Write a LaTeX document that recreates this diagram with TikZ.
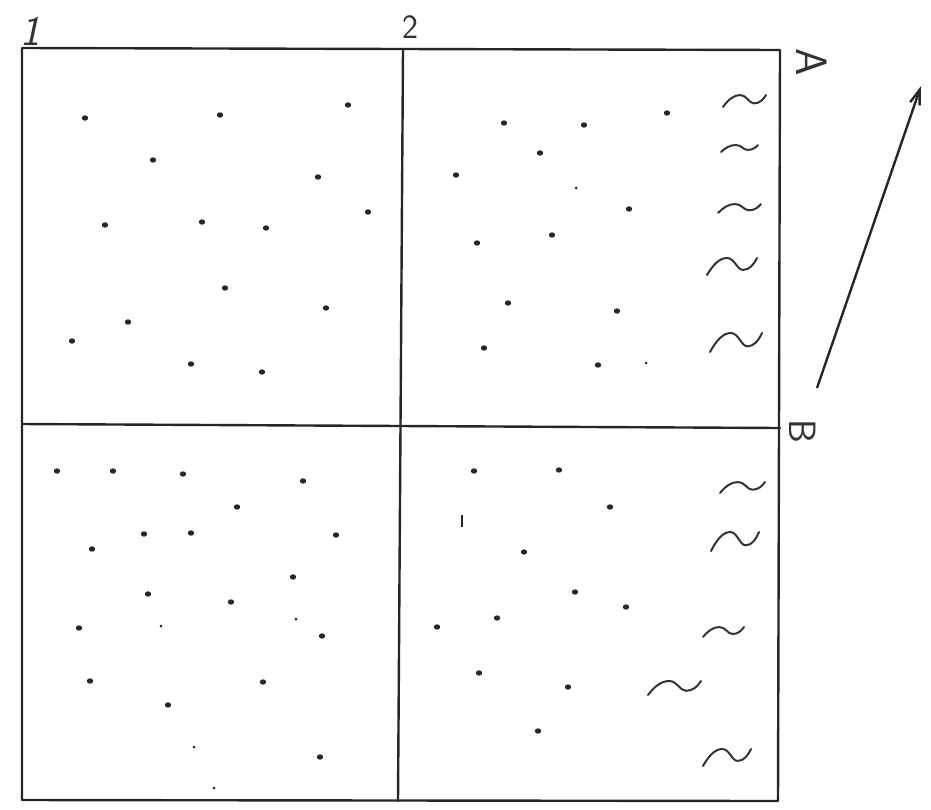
\documentclass[tikz,border=0pt]{standalone}
\usepackage{fontspec}
\usetikzlibrary{arrows.meta}
\tikzset{
  frameline/.style={line width=2.4pt, draw=black!85, line cap=round, line join=round},
  wave/.style={line width=2pt, draw=black!80, line cap=round},
  dot/.style={fill=black!85},
  hand/.style={text=black!80, inner sep=0pt},
  pointer/.style={line width=2.4pt, draw=black!85, -{Straight Barb[length=15pt,width=10pt,line width=2.4pt]}},
  pics/tld/.style={code={
    \draw[wave] (0,0) .. controls (0.12,-0.6) and (0.25,-1) .. (0.4,-1)
      .. controls (0.55,-1) and (0.6,-0.3) .. (0.72,-0.3)
      .. controls (0.85,-0.3) and (0.93,-0.6) .. (1,-1);
  }}
}
\begin{document}
\begin{tikzpicture}[x={(1pt,0)}, y={(0,-1pt)}]
\useasboundingbox (0,0) rectangle (931,809);
% frame corners
\coordinate (tl) at (22,48);
\coordinate (tr) at (780,50);
\coordinate (br) at (778,801);
\coordinate (bl) at (22,800);
\coordinate (tm) at (403,50);
\coordinate (bm) at (398,801);
\coordinate (ml) at (22,424);
\coordinate (mr) at (780,428);
\draw[frameline] (tl) -- (tr) -- (br) -- (bl) -- cycle;
\draw[frameline] (tm) -- (bm);
\draw[frameline] (ml) -- (mr);
% labels
\node[hand, anchor=base, font=\sffamily\itshape\fontsize{42}{44}\selectfont] (l1) at (30,45) {1};
\node[hand, anchor=base, font=\sffamily\fontsize{34}{36}\selectfont] (l2) at (410,38) {2};
\node[hand, font=\sffamily\fontsize{44}{46}\selectfont, rotate=-90] (lA) at (812,62) {A};
\node[hand, font=\sffamily\fontsize{38}{40}\selectfont, rotate=-90] (lB) at (803,431) {B};
% arrow
\coordinate (arrS) at (817,388);
\coordinate (arrE) at (921,86);
\draw[pointer] (arrS) -- (arrE);
% dots
\foreach \x/\y in {85/118,220/115,348/105,153/160,318/177,368/212,105/225,202/222,266/228,
  225/288,326/308,128/322,72/341,191/364,262/372,
  504/123,584/125,667/113,540/153,456/175,629/209,552/235,477/243,508/303,617/311,484/348,598/365,
  57/471,113/471,183/474,303/481,237/507,144/534,191/533,336/535,92/549,293/577,148/594,231/602,
  322/636,79/628,90/681,263/682,168/705,320/757,
  474/471,559/470,610/507,524/552,575/592,626/607,497/618,437/627,479/673,568/687,538/731}
  \fill[dot] (\x,\y) ellipse (3.2 and 2.7);
\foreach \x/\y in {576/188,646/363,296/619,161/626,194/747,214/788}
  \fill[dot] (\x,\y) circle (1.5);
\draw[line width=2pt, draw=black!85] (462,515) -- (462,527);
% waves, top right
\pic[xscale=43, yscale=12] at (723,107) {tld};
\pic[xscale=37, yscale=7] at (721,152) {tld};
\pic[xscale=43, yscale=9] at (718,213) {tld};
\pic[xscale=50, yscale=17] at (707,275) {tld};
\pic[xscale=52, yscale=19] at (710,352) {tld};
% waves, bottom right
\pic[xscale=45, yscale=11] at (720,493) {tld};
\pic[xscale=48, yscale=19] at (711,551) {tld};
\pic[xscale=41, yscale=10] at (703,637) {tld};
\pic[xscale=53, yscale=14] at (648,695) {tld};
\pic[xscale=48, yscale=17] at (703,766) {tld};
\end{tikzpicture}
\end{document}
